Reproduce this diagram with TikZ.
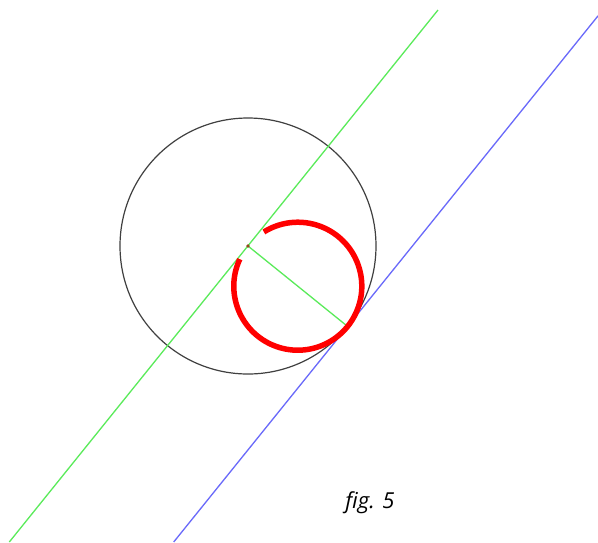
\documentclass[tikz,border=0pt]{standalone}
\usepackage{fontspec}
\newfontfamily\figfont{Open Sans}
\definecolor{lgreen}{RGB}{90,235,90}
\definecolor{lblue}{RGB}{105,105,250}
\definecolor{dotbrown}{RGB}{150,70,30}
\tikzset{
  bigcircle/.style={draw=black!75, line width=1.2pt},
  greenline/.style={draw=lgreen, line width=1.3pt},
  blueline/.style={draw=lblue, line width=1.3pt},
  redarc/.style={draw=red, line width=5.5pt},
  figlabel/.style={font=\figfont\itshape\fontsize{22}{22}\selectfont, inner sep=0pt}
}
\begin{document}
\begin{tikzpicture}[x=1pt,y=-1pt]
\useasboundingbox[fill=white] (0,0) rectangle (598,542);
\coordinate (O) at (248,246);
\coordinate (T) at (347.6,326.4);
\coordinate (M) at (297.8,286.2);
\coordinate (G1) at (438,10);
\coordinate (G2) at (9.3,542);
\coordinate (B1) at (598,15.9);
\coordinate (B2) at (173.7,542);
% big circle
\draw[bigcircle] (O) circle[radius=128pt];
% green line through centre
\draw[greenline] (G1) -- (G2);
% blue tangent line
\draw[blueline] (B1) -- (B2);
% radius to tangent point
\draw[greenline] (O) -- (T);
% red circle (arc with a gap)
\draw[redarc] ([shift={(155:64pt)}]M) arc[start angle=155, end angle=482, radius=64pt];
% centre dot
\fill[dotbrown] (O) circle[radius=1.8pt];
\node[figlabel] (lbl) at (370,503) {fig. 5};
\end{tikzpicture}
\end{document}
